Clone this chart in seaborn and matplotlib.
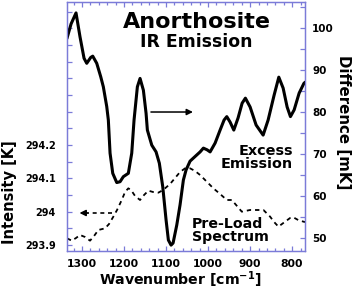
import matplotlib
matplotlib.use("Agg")
import matplotlib.pyplot as plt
from matplotlib.ticker import MultipleLocator, FixedLocator
import seaborn as sns
import numpy as np
import pandas as pd

# excess emission (difference), right axis [mK]
diff_wn = [1336, 1326, 1314.3, 1304.8, 1295.2, 1288.8, 1279.3, 1274.5, 1265, 1255.5,
           1249.3, 1241.2, 1237.4, 1233.3, 1226.9, 1217.4, 1209.5, 1201.7, 1189.8, 1181.7,
           1176.2, 1173.8, 1168.3, 1161.9, 1154, 1147.6, 1144.5, 1134, 1123.8, 1116,
           1107.9, 1100, 1094.5, 1088.1, 1083.3, 1074.5, 1066.7, 1058.8, 1052.4, 1042.9,
           1031, 1019, 1011.2, 1002.4, 995.2, 983.3, 971.4, 961.9, 955.5, 947.6,
           938.8, 928.6, 919, 911.2, 900, 885.7, 869, 857.1, 842.9, 831.7,
           821.4, 811.9, 804, 795.2, 783.3, 772.1, 769]
diff_mk = [97.5, 101, 103.6, 97.9, 92.8, 91.6, 93.0, 93.3, 91.6, 88.4,
           86.0, 81.3, 78.1, 70.2, 65.4, 63.2, 63.4, 64.6, 65.4, 70.2,
           78.1, 80.5, 86.0, 88.0, 85.2, 79.7, 75.7, 72.1, 70.5, 67.8,
           62.2, 54.3, 49.5, 48.3, 48.8, 53.1, 57.9, 63.8, 66.2, 68.3,
           69.4, 70.5, 71.4, 71.0, 70.5, 72.6, 75.7, 78.1, 78.9, 77.6,
           75.7, 78.6, 82.1, 83.3, 81.2, 76.9, 74.5, 78.1, 84.0, 88.3,
           85.7, 81.2, 78.9, 80.5, 84.5, 86.8, 87.1]

# pre-load spectrum, left axis [K]
pre_wn = [1335.7, 1324.5, 1314.3, 1304.8, 1292.9, 1281, 1271.4, 1261.2, 1245.2, 1235.7,
          1225.5, 1216.7, 1205.5, 1197.6, 1189.8, 1183.3, 1173.8, 1161.9, 1152.4, 1142.1,
          1131, 1118.3, 1107, 1090.5, 1078.6, 1066.7, 1054.8, 1042.9, 1031, 1019,
          1004.8, 987.4, 971.4, 955.5, 943.6, 933.3, 919.8, 900, 883.3, 868.3,
          852.4, 842.9, 832.6, 816.7, 804.8, 797, 785.7, 773, 769]
pre_k = [293.920, 293.913, 293.921, 293.930, 293.924, 293.913, 293.927, 293.945, 293.950, 293.963,
         293.985, 294.005, 294.035, 294.059, 294.070, 294.065, 294.047, 294.035, 294.050, 294.063,
         294.059, 294.057, 294.065, 294.083, 294.101, 294.119, 294.130, 294.130, 294.122, 294.110,
         294.092, 294.070, 294.053, 294.035, 294.035, 294.020, 294.000, 294.005, 294.005, 294.005,
         293.985, 293.969, 293.955, 293.970, 293.981, 293.983, 293.975, 293.970, 293.969]

x_ticks = [1300, 1200, 1100, 1000, 900, 800]
left_ticks = [293.9, 294.0, 294.1, 294.2]
left_labels = ["293.9", "294", "294.1", "294.2"]
right_ticks = [50, 60, 70, 80, 90, 100]

diff_df = pd.DataFrame({"wn": diff_wn, "mK": diff_mk})
pre_df = pd.DataFrame({"wn": pre_wn, "K": pre_k})

sns.set_theme(style="white")
plt.rcParams["font.family"] = ["DejaVu Sans"]
plt.rcParams["font.weight"] = "bold"
plt.rcParams["text.color"] = "black"
plt.rcParams["xtick.labelcolor"] = "black"
plt.rcParams["ytick.labelcolor"] = "black"

frame = "#7b7bd8"

fig = plt.figure(figsize=(3.54, 2.90), dpi=100)
ax = fig.add_axes([0.189, 0.1345, 0.673, 0.8586])
ax2 = ax.twinx()

sns.lineplot(data=pre_df, x="wn", y="K", ax=ax, color="black", lw=1.3,
             estimator=None, sort=False)
ax.lines[-1].set_dashes((2.4, 2.2))
sns.lineplot(data=diff_df, x="wn", y="mK", ax=ax2, color="black", lw=2.2,
             estimator=None, sort=False)
ax.set_xlabel("")
ax.set_ylabel("")
ax2.set_ylabel("")

ax.set_xlim(1336, 769)
ax.set_ylim(293.882, 294.629)
ax2.set_ylim(46.9, 106.2)

# arrows
ax2.annotate("", xy=(1036, 80), xytext=(1136, 80),
             arrowprops=dict(arrowstyle="-|>", color="black", lw=1.1,
                             mutation_scale=9, shrinkA=0, shrinkB=0))
ax.plot([1229, 1290], [293.996, 293.996], color="black", lw=1.2, dashes=(2.4, 2.2))
ax.annotate("", xy=(1306, 293.996), xytext=(1288, 293.996),
            arrowprops=dict(arrowstyle="-|>", color="black", lw=1.1,
                            mutation_scale=9, shrinkA=0, shrinkB=0))

# spines and ticks
for a in (ax, ax2):
    for s in a.spines.values():
        s.set_color(frame)
        s.set_linewidth(0.9)

ax.xaxis.set_major_locator(FixedLocator(x_ticks))
ax.xaxis.set_minor_locator(MultipleLocator(20))
ax.yaxis.set_major_locator(FixedLocator(left_ticks))
ax.set_yticklabels(left_labels)
ax.yaxis.set_minor_locator(MultipleLocator(0.05))
ax2.yaxis.set_major_locator(FixedLocator(right_ticks))
ax2.yaxis.set_minor_locator(MultipleLocator(5))

ax.tick_params(axis="x", which="both", direction="in", top=True, bottom=True,
               color=frame, width=0.9, labelsize=7.8, pad=6, labelcolor="black")
ax.tick_params(axis="x", which="major", length=3.5)
ax.tick_params(axis="x", which="minor", length=2.5)
ax.tick_params(axis="y", which="both", direction="in", left=True, right=False,
               color=frame, width=0.9, labelsize=7, pad=8, labelcolor="black")
ax.tick_params(axis="y", which="major", length=3.5)
ax.tick_params(axis="y", which="minor", length=3.5)
ax2.tick_params(axis="y", which="both", direction="in", right=True, left=False,
                color=frame, width=0.9, labelsize=7.5, pad=5, labelcolor="black")
ax2.tick_params(axis="y", which="major", length=3.5)
ax2.tick_params(axis="y", which="minor", length=3.5)
for lab in ax.get_xticklabels() + ax.get_yticklabels() + ax2.get_yticklabels():
    lab.set_fontweight("bold")

# axis titles
fig.text(180 / 354, 1 - 280 / 290, "Wavenumber [cm$^{\\mathbf{-1}}$]", ha="center", va="center",
         fontsize=10.2, fontweight="bold", color="black")
fig.text(10 / 354, 1 - 192 / 290, "Intensity [K]", ha="center", va="center",
         rotation=90, fontsize=10.5, fontweight="bold", color="black")
fig.text(344 / 354, 1 - 122 / 290, "Difference [mK]", ha="center", va="center",
         rotation=270, fontsize=10.8, fontweight="bold", color="black")

# annotations
ax.text(0.546, 0.920, "Anorthosite", transform=ax.transAxes, ha="center", va="center",
        fontsize=16, fontweight="bold", color="black")
ax.text(0.542, 0.839, "IR Emission", transform=ax.transAxes, ha="center", va="center",
        fontsize=12.4, fontweight="bold", color="black")
ax.text(0.950, 0.403, "Excess", transform=ax.transAxes, ha="right", va="center",
        fontsize=10.4, fontweight="bold", color="black")
ax.text(0.950, 0.349, "Emission", transform=ax.transAxes, ha="right", va="center",
        fontsize=10.4, fontweight="bold", color="black")
ax.text(0.524, 0.108, "Pre-Load", transform=ax.transAxes, ha="left", va="center",
        fontsize=10.2, fontweight="bold", color="black")
ax.text(0.524, 0.057, "Spectrum", transform=ax.transAxes, ha="left", va="center",
        fontsize=10.2, fontweight="bold", color="black")

fig.savefig("out.png", dpi=100)
